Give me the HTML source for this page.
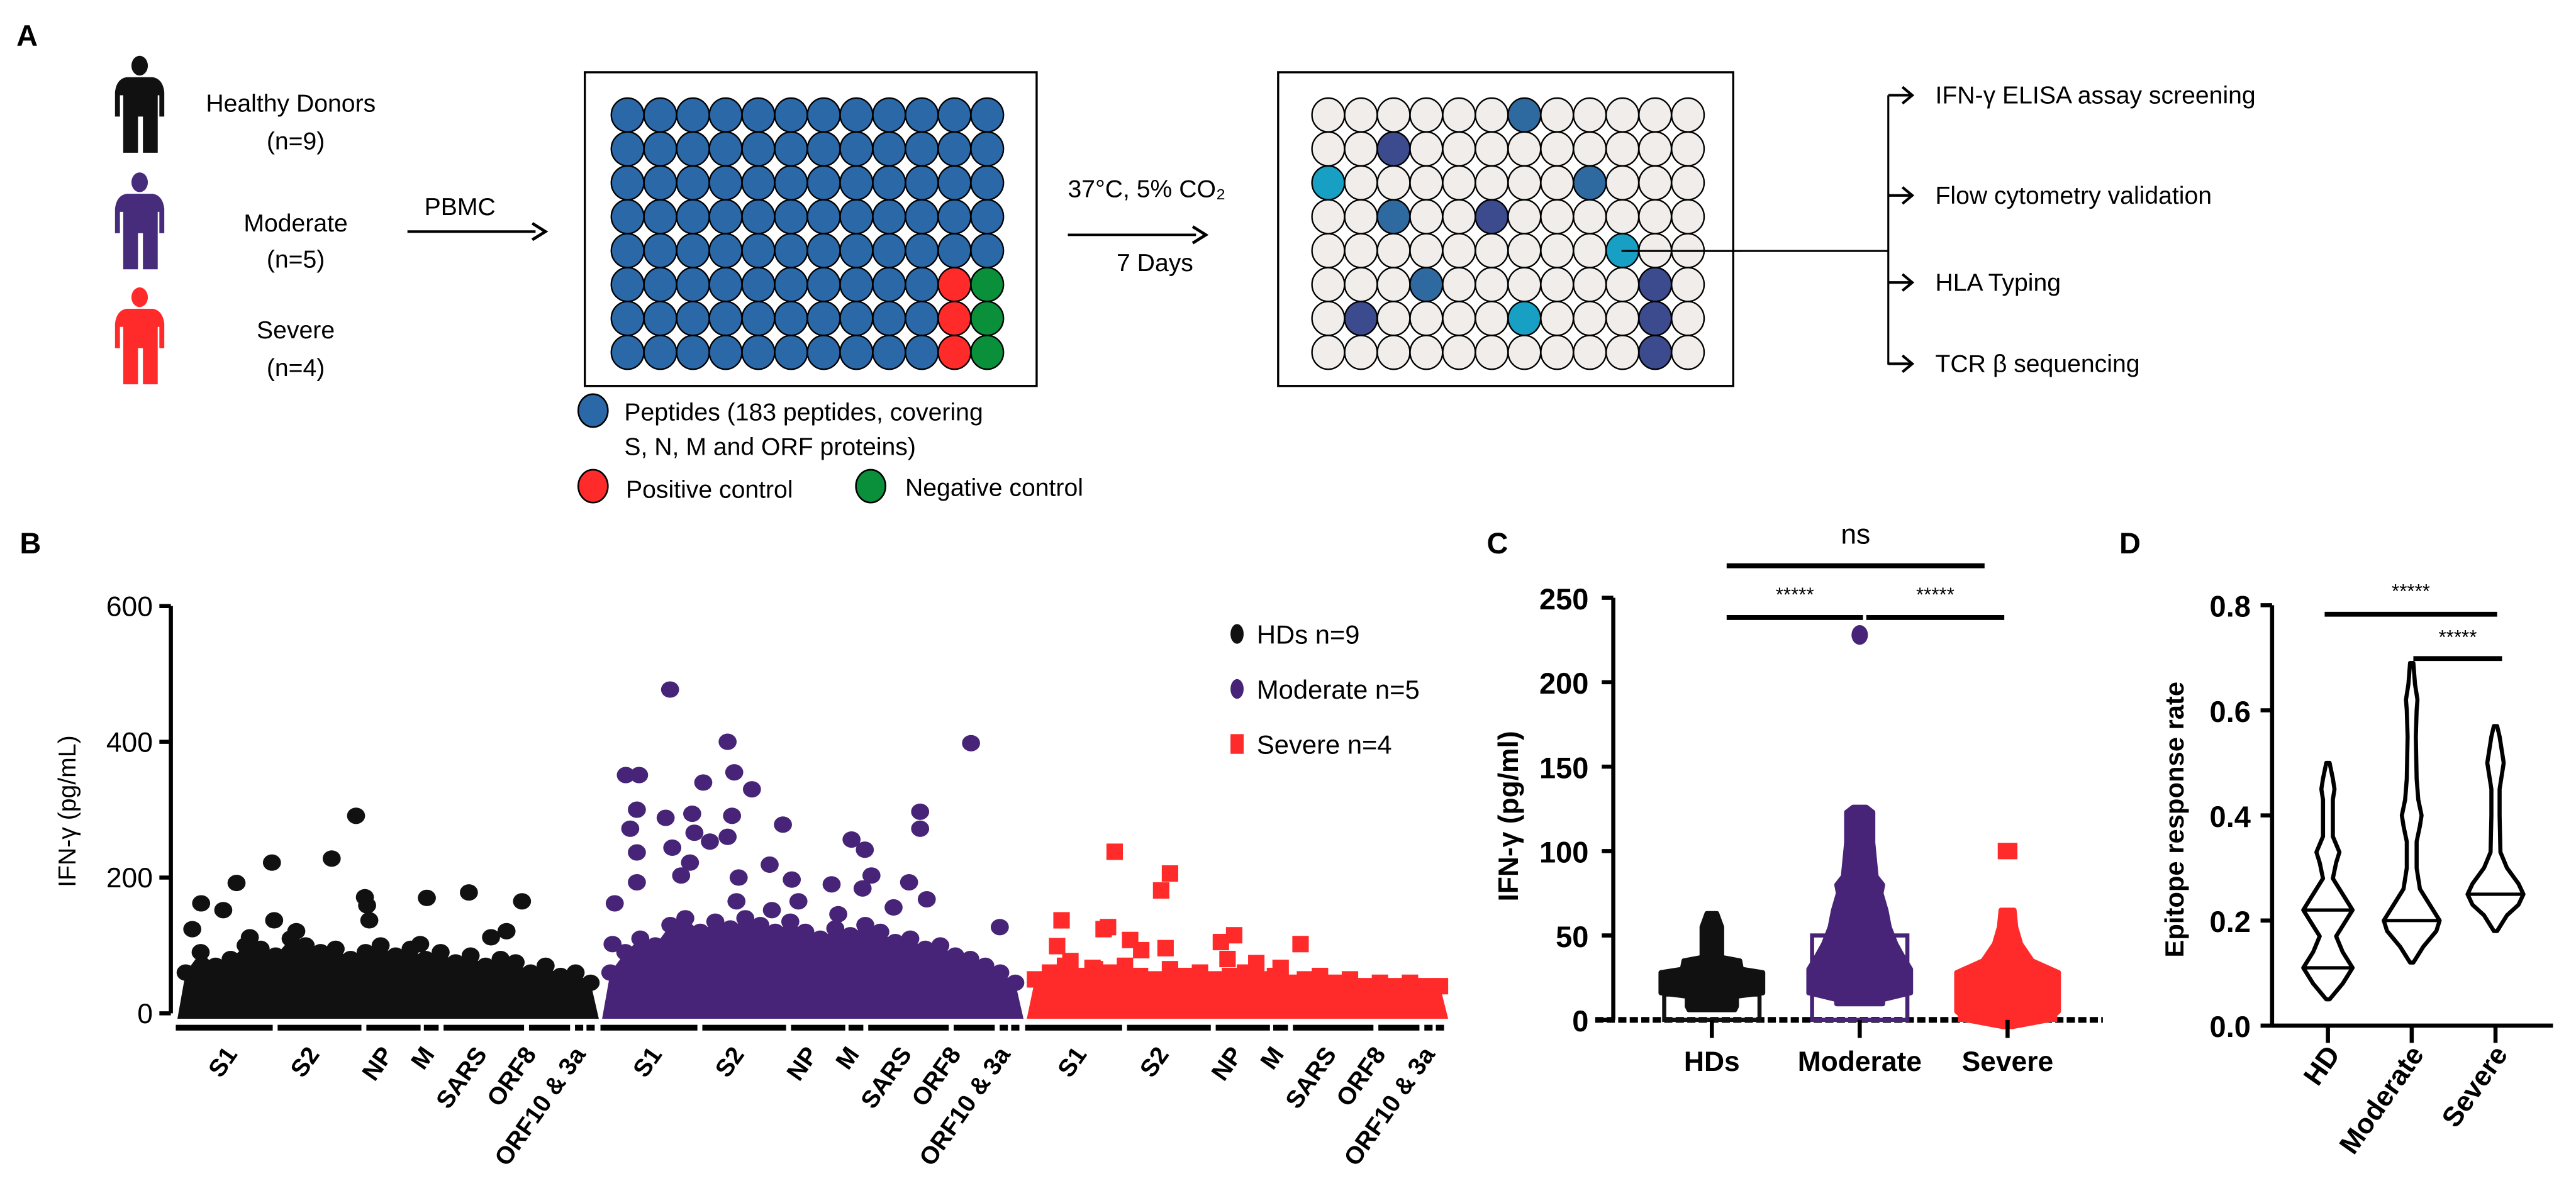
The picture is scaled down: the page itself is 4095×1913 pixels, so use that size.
<!DOCTYPE html>
<html><head><meta charset="utf-8">
<style>
html,body{margin:0;padding:0;background:#fff;}
svg{display:block;font-family:"Liberation Sans",sans-serif;}
</style></head>
<body>
<svg id="fig" width="4095" height="1913" viewBox="0 0 1568 732.5" xmlns="http://www.w3.org/2000/svg">
<rect width="1568" height="732.5" fill="#fff"/>
<text x="10" y="28" font-size="18" font-weight="bold">A</text>
<text x="12" y="337" font-size="18" font-weight="bold">B</text>
<text x="905" y="337" font-size="18" font-weight="bold">C</text>
<text x="1290" y="337" font-size="18" font-weight="bold">D</text>

<g id="panelA" font-size="15">
  <text x="177" y="68" text-anchor="middle">Healthy Donors</text>
  <text x="180" y="91" text-anchor="middle">(n=9)</text>
  <text x="180" y="141" text-anchor="middle">Moderate</text>
  <text x="180" y="163" text-anchor="middle">(n=5)</text>
  <text x="180" y="206" text-anchor="middle">Severe</text>
  <text x="180" y="229" text-anchor="middle">(n=4)</text>
  <text x="280" y="131" text-anchor="middle">PBMC</text>
  <line x1="248" y1="141" x2="326" y2="141" stroke="#000" stroke-width="1.5"/>
  <path d="M324,136 L332,141 L324,146" fill="none" stroke="#000" stroke-width="1.8"/>
  <rect x="356" y="44" width="275" height="191" fill="none" stroke="#000" stroke-width="1.3"/>
  <rect x="778" y="44" width="277" height="191" fill="none" stroke="#000" stroke-width="1.3"/>
  <text x="650" y="120">37°C, 5% CO₂</text>
  <line x1="650" y1="143" x2="728" y2="143" stroke="#000" stroke-width="1.5"/>
  <path d="M726,138 L734,143 L726,148" fill="none" stroke="#000" stroke-width="1.8"/>
  <text x="703" y="165" text-anchor="middle">7 Days</text>
  <ellipse cx="361" cy="250" rx="9" ry="10" fill="#2a68a8" stroke="#000" stroke-width="1"/>
  <text x="380" y="256">Peptides (183 peptides, covering</text>
  <text x="380" y="277">S, N, M and ORF proteins)</text>
  <ellipse cx="361" cy="296" rx="9" ry="10" fill="#ff2b2b" stroke="#000" stroke-width="1"/>
  <text x="381" y="303">Positive control</text>
  <ellipse cx="530" cy="296" rx="9" ry="10" fill="#0a8f3a" stroke="#000" stroke-width="1"/>
  <text x="551" y="302">Negative control</text>
  <line x1="987" y1="152.8" x2="1149.4" y2="152.8" stroke="#000" stroke-width="1.2"/>
  <line x1="1149.4" y1="58" x2="1149.4" y2="222" stroke="#000" stroke-width="1.2"/>
</g>

<g id="plates"></g>
<g id="assays" font-size="15"></g>
<g id="persons"></g>
<g id="panelB"></g>
<g id="panelC"></g>
<g id="panelD"></g>
</svg>

<script>
const NS="http://www.w3.org/2000/svg";
function mk(parent,tag,attrs,text){const e=document.createElementNS(NS,tag);for(const k in attrs)e.setAttribute(k,attrs[k]);if(text!==undefined)e.textContent=text;parent.appendChild(e);return e;}

/* ---------- Panel A ---------- */
const persons=document.getElementById('persons');
const personColors=['#111','#472c7c','#ff2b2b'];
const personTops=[34,105,175];
personColors.forEach((c,i)=>{
  const t=personTops[i];
  const g=mk(persons,'g',{fill:c});
  
  
  mk(g,'ellipse',{cx:85,cy:t+6,rx:5,ry:6});
  mk(g,'path',{d:`M77,${t+13} L93,${t+13} Q99,${t+14} 100,${t+22} L100,${t+37} L97,${t+37} L97,${t+24} L96,${t+24} L96,${t+59} L87,${t+59} L87,${t+37} L84,${t+37} L84,${t+59} L75,${t+59} L75,${t+24} L73,${t+24} L73,${t+37} L70,${t+37} L70,${t+22} Q71,${t+14} 77,${t+13} Z`});
});

const plates=document.getElementById('plates');
const plate1Special=[[5,10,'pos'],[6,10,'pos'],[7,10,'pos'],[5,11,'neg'],[6,11,'neg'],[7,11,'neg']];
const plate2Hits=[[0,6,'s'],[1,2,'n'],[2,0,'t'],[2,8,'s'],[3,2,'s'],[3,5,'n'],[4,9,'t'],[5,3,'s'],[5,10,'n'],[6,1,'n'],[6,6,'t'],[6,10,'n'],[7,10,'n']];
const shade={s:'#2e6aa0',n:'#3c4a8e',t:'#189fc4',pos:'#ff2b2b',neg:'#0a8f3a'};
function drawPlate(x0,base,special){
  for(let r=0;r<8;r++)for(let c=0;c<12;c++){
    let f=base;
    special.forEach(s=>{if(s[0]===r&&s[1]===c)f=shade[s[2]];});
    const e=mk(plates,'ellipse',{cx:x0+c*19.9,cy:70+r*20.65,rx:9.9,ry:10.3,fill:f,stroke:'#000','stroke-width':0.9});
    
    
  }
}
drawPlate(382,'#2a68a8',plate1Special);
drawPlate(808.5,'#f0edea',plate2Hits);
const line2=mk(plates,'line',{x1:987,y1:152.8,x2:1060,y2:152.8,stroke:'#000','stroke-width':1.2});



const assays=document.getElementById('assays');
const assayLabels=['IFN-γ ELISA assay screening','Flow cytometry validation','HLA Typing','TCR β sequencing'];
const assayY=[58,119,172,221.5];
assayLabels.forEach((t,i)=>{
  const y=assayY[i];
  const a=mk(assays,'path',{d:`M1149.4,${y} L1163,${y} M1158,${y-5} L1164,${y} L1158,${y+5}`,fill:'none',stroke:'#000','stroke-width':1.6});
  
  
  const tx=mk(assays,'text',{x:1178,y:y+5},t);
  
  
});

/* ---------- Panel B data ---------- */
const bTicks=[0,200,400,600];
const bCategories=['S1','S2','NP','M','SARS','ORF8','ORF10 & 3a'];
const bGroups=['HDs n=9','Moderate n=5','Severe n=4'];
const hdEnvelope=[60,90,70,80,100,95,85,110,100,90,95,80,90,100,85,95,80,90,75,85,70,80,75,60,70,55,60,45];
const modEnvelope=[60,90,110,100,130,140,120,135,125,140,130,120,135,120,110,125,115,130,120,105,110,95,100,85,80,70,60,45];
const sevEnvelope=[50,60,70,55,65,60,70,55,50,65,55,60,50,55,60,50,55,45,50,55,45,50,40,45,40,45,40,40];
const hdOutliers=[[3,124],[7,162],[17,152],[23,192],[29,112],[39,222],[40,137],[50,121],[66,228],[77,291],[81,171],[82,159],[83,137],[106,102],[109,170],[128,178],[138,112],[145,121],[152,165]];
const modOutliers=[[27,477],[53,400],[163,398],[7,351],[13,351],[42,340],[56,355],[64,330],[12,300],[9,272],[25,288],[37,294],[55,291],[140,297],[140,272],[78,278],[28,244],[12,237],[38,266],[45,253],[53,260],[109,256],[115,241],[12,193],[32,203],[36,222],[58,200],[72,219],[82,197],[118,203],[135,193],[143,168],[2,162],[176,127],[57,165],[100,190],[114,184],[128,156],[73,152],[85,165],[103,146],[1,102]];
const sevOutliers=[[36,238],[61,206],[57,181],[12,137],[31,124],[33,127],[90,115],[84,105],[120,102],[43,108],[48,93],[10,99],[59,96],[16,77],[26,67],[87,80],[100,74],[111,67]];

const B={x0:107,gw:258.5,y0:617,k:0.4133,n:183};
function bx(g,p){return B.x0+g*B.gw+6+p/B.n*(B.gw-12);}
function by(v){return B.y0-v*B.k;}
const pB=document.getElementById('panelB');
const colB=['#111111','#472477','#ff2b2b'];
const yaxB=mk(pB,'line',{x1:104,y1:by(600),x2:104,y2:by(0),stroke:'#000','stroke-width':2.5});


bTicks.forEach(t=>{
  const tk=mk(pB,'line',{x1:97,x2:104,y1:by(t),y2:by(t),stroke:'#000','stroke-width':2.5});
  
  
  const lb=mk(pB,'text',{x:93,y:by(t)+6,'text-anchor':'end','font-size':17},String(t));
  
  
});
const ytB=mk(pB,'text',{x:0,y:0,'font-size':15,'text-anchor':'middle',transform:'translate(46,494) rotate(-90)'},'IFN-γ (pg/mL)');


const segs=[[0,59],[62,113],[116,149],[151,160],[163,212],[215,240],[243,248],[250,255]];
const labAnchor=[38,88,133,158,190,220,250];
[0,1,2].forEach(g=>{
  segs.forEach(s=>{
    const r=mk(pB,'rect',{x:B.x0+g*B.gw+s[0],y:624,width:s[1]-s[0],height:3.5,fill:'#000'});
    
    
  });
  bCategories.forEach((c,i)=>{
    const x=B.x0+g*B.gw+labAnchor[i];
    const t=mk(pB,'text',{x:0,y:0,'font-size':15,'font-weight':'bold','text-anchor':'end',transform:`translate(${x},642) rotate(-55)`},c);
    
    
  });
});
[hdEnvelope,modEnvelope,sevEnvelope].forEach((env,g)=>{
  let d=`M${bx(g,0)-5},${by(-8)}`;
  env.forEach((v,i)=>{d+=` L${bx(g,i/(env.length-1)*B.n)},${by(v)}`;});
  d+=` L${bx(g,B.n)+5},${by(-8)} Z`;
  const p=mk(pB,'path',{d:d,fill:colB[g]});
  
  
  env.forEach((v,i)=>{
    const x=bx(g,i/(env.length-1)*B.n);
    const m=g===2?mk(pB,'rect',{x:x-5,y:by(v)-5,width:10,height:10,fill:colB[g]}):mk(pB,'ellipse',{cx:x,cy:by(v),rx:5.5,ry:5,fill:colB[g]});
    
    
  });
});
[hdOutliers,modOutliers,sevOutliers].forEach((arr,g)=>{
  arr.forEach(pt=>{
    const x=bx(g,pt[0]),y=by(pt[1]);
    const m=g===2?mk(pB,'rect',{x:x-5,y:y-5,width:10,height:10,fill:colB[g]}):mk(pB,'ellipse',{cx:x,cy:y,rx:5.5,ry:5,fill:colB[g]});
    
    
  });
});
bGroups.forEach((t,i)=>{
  const y=386+i*33.5;
  const m=i===2?mk(pB,'rect',{x:749,y:y-6,width:8,height:12,fill:colB[i]}):mk(pB,'ellipse',{cx:753,cy:y,rx:4,ry:6,fill:colB[i]});
  
  
  const tx=mk(pB,'text',{x:765,y:y+6,'font-size':16},t);
  
  
});

/* ---------- Panel C data ---------- */
const cTicks=[0,50,100,150,200,250];
const cCategories=['HDs','Moderate','Severe'];
const cBarMeans=[15,50,28];
const hdVals=[6,8,14,16,22,28,30,35,37,45,55,63];
const hdWidth=[14,15,15,31,31,31,18,17,6,6,6,3];
const modVals=[9.5,12,16,22,30,38,45,55,65,75,80,85,95,105,115,123,126];
const modWidth=[14,14,31,31,31,26,22,18,16,13,14,10,9,8,8,8,4];
const sevVals=[-4,0,5,10,20,28,35,45,55,65];
const sevWidth=[3,25,31,31,31,31,15,8,5,4];
const cOutlierMod=228, cOutlierSev=100;

const pC=document.getElementById('panelC');
const cxs=[1042,1132,1222];
function cy(v){return 621-v*1.028;}
const yaxC=mk(pC,'line',{x1:982,y1:cy(250),x2:982,y2:cy(0),stroke:'#000','stroke-width':2.5});


cTicks.forEach(t=>{
  const tk=mk(pC,'line',{x1:975,x2:982,y1:cy(t),y2:cy(t),stroke:'#000','stroke-width':2.5});
  
  
  const lb=mk(pC,'text',{x:967,y:cy(t)+7,'text-anchor':'end','font-size':18,'font-weight':'bold'},String(t));
  
  
});
const ytC=mk(pC,'text',{x:0,y:0,'font-size':17,'font-weight':'bold','text-anchor':'middle',transform:'translate(924,497) rotate(-90)'},'IFN-γ (pg/ml)');


const xaxC=mk(pC,'line',{x1:971,y1:cy(0),x2:1280,y2:cy(0),stroke:'#000','stroke-width':3.5,'stroke-dasharray':'5 2'});


const cCols=['#111111','#472477','#ff2b2b'];
cBarMeans.forEach((m,i)=>{
  const r=mk(pC,'rect',{x:cxs[i]-29,y:cy(m),width:58,height:cy(0)-cy(m),fill:'none',stroke:cCols[i],'stroke-width':2.5});
  
  
});
[[hdVals,hdWidth],[modVals,modWidth],[sevVals,sevWidth]].forEach((vw,i)=>{
  const v=vw[0],w=vw[1];let d='';
  v.forEach((val,j)=>{d+=(j?' L':'M')+(cxs[i]-w[j])+','+cy(val);});
  for(let j=v.length-1;j>=0;j--)d+=' L'+(cxs[i]+w[j])+','+cy(v[j]);
  d+=' Z';
  const p=mk(pC,'path',{d:d,fill:cCols[i],stroke:cCols[i],'stroke-width':3,'stroke-linejoin':'round'});
  
  
});
const oM=mk(pC,'ellipse',{cx:cxs[1],cy:cy(cOutlierMod),rx:5,ry:6,fill:cCols[1]});


const oS=mk(pC,'rect',{x:cxs[2]-6,y:cy(cOutlierSev)-5,width:12,height:10,fill:cCols[2]});


cCategories.forEach((c,i)=>{
  const tk=mk(pC,'line',{x1:cxs[i],x2:cxs[i],y1:cy(0),y2:632,stroke:'#000','stroke-width':2.5});
  
  
  const lb=mk(pC,'text',{x:cxs[i],y:652,'text-anchor':'middle','font-size':17,'font-weight':'bold'},c);
  
  
});
const sigC=[[1051,1208,344.5,'ns',331],[1051,1134,376,'*****',366],[1136,1220,376,'*****',366]];
sigC.forEach(s=>{
  const l=mk(pC,'line',{x1:s[0],x2:s[1],y1:s[2],y2:s[2],stroke:'#000','stroke-width':3});
  
  
  const t=mk(pC,'text',{x:(s[0]+s[1])/2,y:s[4],'text-anchor':'middle','font-size':s[3]==='ns'?17:12},s[3]);
  
  
});

/* ---------- Panel D data ---------- */
const dTicks=[0,0.2,0.4,0.6,0.8];
const dCategories=['HD','Moderate','Severe'];
const dHdV=[0.05,0.08,0.11,0.14,0.17,0.2,0.22,0.25,0.28,0.31,0.33,0.36,0.4,0.43,0.45,0.47,0.5];
const dHdW=[0,8,14,8,4,10,14,8,2,4,6,2,2,2,3,2,0];
const dModV=[0.12,0.15,0.18,0.2,0.23,0.26,0.3,0.35,0.38,0.4,0.43,0.47,0.55,0.6,0.62,0.65,0.69];
const dModW=[0,6,14,16,10,4,2,2,4,5,3,2,1.5,2,2.5,1,0];
const dSevV=[0.18,0.21,0.23,0.25,0.27,0.3,0.33,0.4,0.45,0.48,0.5,0.52,0.55,0.57];
const dSevW=[0,6,13,16,13,6,2,1.5,1.5,3,4,3,1.5,0];
const dMedians=[[0.22,0.11],[0.2],[0.25]];

const pD=document.getElementById('panelD');
const dxs=[1417,1468,1519];
function dy(v){return 624.5-v*320;}
const yaxD=mk(pD,'line',{x1:1383,y1:dy(0.8),x2:1383,y2:dy(0),stroke:'#000','stroke-width':2.5});


const xaxD=mk(pD,'line',{x1:1383,y1:dy(0),x2:1554,y2:dy(0),stroke:'#000','stroke-width':2.5});


dTicks.forEach(t=>{
  const tk=mk(pD,'line',{x1:1376,x2:1383,y1:dy(t),y2:dy(t),stroke:'#000','stroke-width':2.5});
  
  
  const lb=mk(pD,'text',{x:1370,y:dy(t)+7,'text-anchor':'end','font-size':18,'font-weight':'bold'},t.toFixed(1));
  
  
});
const ytD=mk(pD,'text',{x:0,y:0,'font-size':16,'font-weight':'bold','text-anchor':'middle',transform:'translate(1329,499) rotate(-90)'},'Epitope response rate');


[[dHdV,dHdW],[dModV,dModW],[dSevV,dSevW]].forEach((vw,i)=>{
  const v=vw[0],w=vw[1];let d='';
  v.forEach((val,j)=>{d+=(j?' L':'M')+(dxs[i]-w[j]-1)+','+dy(val);});
  for(let j=v.length-1;j>=0;j--)d+=' L'+(dxs[i]+w[j]+1)+','+dy(v[j]);
  d+=' Z';
  const p=mk(pD,'path',{d:d,fill:'#fff',stroke:'#000','stroke-width':2.5,'stroke-linejoin':'round'});
  
  
  dMedians[i].forEach(m=>{
    let hw=0;for(let j=0;j<v.length-1;j++){if(m>=v[j]&&m<=v[j+1]){hw=w[j]+(w[j+1]-w[j])*(m-v[j])/(v[j+1]-v[j]);}}
    const l=mk(pD,'line',{x1:dxs[i]-hw,x2:dxs[i]+hw,y1:dy(m),y2:dy(m),stroke:'#000','stroke-width':2});
    
    
  });
});
dCategories.forEach((c,i)=>{
  const tk=mk(pD,'line',{x1:dxs[i],x2:dxs[i],y1:dy(0),y2:635,stroke:'#000','stroke-width':2.5});
  
  
  const lb=mk(pD,'text',{x:0,y:0,'text-anchor':'end','font-size':17,'font-weight':'bold',transform:`translate(${dxs[i]+8},642) rotate(-55)`},c);
  
  
});
const sigD=[[1415,1520,374,364],[1469,1523,401,392]];
sigD.forEach(s=>{
  const l=mk(pD,'line',{x1:s[0],x2:s[1],y1:s[2],y2:s[2],stroke:'#000','stroke-width':3});
  
  
  const t=mk(pD,'text',{x:(s[0]+s[1])/2,y:s[3],'text-anchor':'middle','font-size':12},'*****');
  
  
});
</script>
</body></html>
